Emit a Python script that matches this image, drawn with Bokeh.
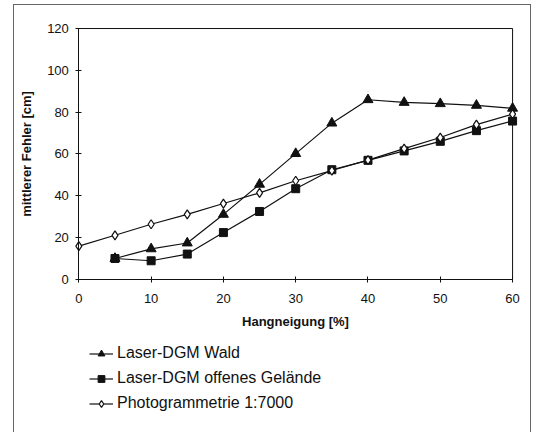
from bokeh.plotting import figure
from bokeh.models import Range1d, Legend, LegendItem, FixedTicker
from bokeh.embed import file_html
from bokeh.resources import INLINE

# ---- data ----
slope_laser = [5, 10, 15, 20, 25, 30, 35, 40, 45, 50, 55, 60]
laser_wald = [9.9, 14.5, 17.3, 31, 45.4, 60.1, 74.7, 85.9, 84.6, 84, 83.2, 81.8]
laser_offen = [9.9, 8.8, 12, 22.3, 32.4, 43.3, 52.4, 56.9, 61.4, 66, 71.1, 75.7]
slope_photo = [0, 5, 10, 15, 20, 25, 30, 35, 40, 45, 50, 55, 60]
photo = [15.8, 21, 26.3, 31, 36.2, 41.3, 47.1, 52, 57, 62.5, 67.8, 74, 79]
x_ticks = [0, 10, 20, 30, 40, 50, 60]
y_ticks = [0, 20, 40, 60, 80, 100, 120]
names = ["Laser-DGM Wald", "Laser-DGM offenes Gelände", "Photogrammetrie 1:7000"]
x_title = "Hangneigung [%]"
y_title = "mittlerer Fehler [cm]"

FONT = "Liberation Sans"
INK = "#111111"
FRAME = "1.5px solid #666666"

x0, x1 = x_ticks[0], x_ticks[-1]
y0, y1 = y_ticks[0], y_ticks[-1]
p = figure(width=518, height=428, output_backend="svg", toolbar_location=None,
           x_range=Range1d(-8.9, 62.48), y_range=Range1d(-73.9, 128.63),
           min_border_left=0, min_border_right=2, min_border_top=5, min_border_bottom=0,
           styles={"border-left": FRAME, "border-top": FRAME, "border-right": FRAME,
                   "margin-left": "13px", "margin-top": "4px"})
p.outline_line_color = None
p.grid.visible = False
p.background_fill_color = "white"
p.border_fill_color = "white"

for ax in (p.xaxis[0], p.yaxis[0]):
    ax.fixed_location = 0
    ax.axis_line_color = INK
    ax.axis_line_width = 1
    ax.major_tick_line_color = INK
    ax.major_tick_in = 3
    ax.major_tick_out = 3
    ax.minor_tick_line_color = None
    ax.major_label_text_font = FONT
    ax.major_label_text_font_size = "13px"
    ax.major_label_text_color = INK
    ax.axis_label_text_font = FONT
    ax.axis_label_text_font_size = "13px"
    ax.axis_label_text_font_style = "bold"
    ax.axis_label_text_color = INK

p.xaxis.ticker = FixedTicker(ticks=x_ticks)
p.yaxis.ticker = FixedTicker(ticks=y_ticks)
p.xaxis.bounds = (x0, x1)
p.yaxis.bounds = (y0, y1)
p.xaxis.axis_label = x_title
p.yaxis.axis_label = y_title
p.xaxis.major_label_standoff = 12
p.xaxis.axis_label_standoff = 7
p.yaxis.major_label_standoff = 7
p.yaxis.axis_label_standoff = 10

# top and right frame lines of the plot area
p.line([x0, x1, x1], [y1, y1, y0], line_color=INK, line_width=1)

l1 = p.line(slope_laser, laser_wald, line_color=INK, line_width=1.2)
m1 = p.scatter(slope_laser, laser_wald, marker="triangle", size=10,
               fill_color=INK, line_color=INK)
l2 = p.line(slope_laser, laser_offen, line_color=INK, line_width=1.2)
m2 = p.scatter(slope_laser, laser_offen, marker="square", size=8,
               fill_color=INK, line_color=INK)
l3 = p.line(slope_photo, photo, line_color=INK, line_width=1.2)
m3 = p.scatter(slope_photo, photo, marker="diamond", size=9,
               fill_color="white", line_color=INK, line_width=1.2)

legend = Legend(items=[LegendItem(label=names[0], renderers=[l1, m1]),
                       LegendItem(label=names[1], renderers=[l2, m2]),
                       LegendItem(label=names[2], renderers=[l3, m3])],
                location=(75, 20), orientation="vertical",
                border_line_color=None, background_fill_alpha=0,
                label_text_font=FONT, label_text_font_size="16px",
                label_text_color=INK, label_height=20, glyph_height=17,
                glyph_width=24, label_standoff=4, spacing=5,
                padding=0, margin=0)
p.add_layout(legend, "center")

open("out.html", "w").write(file_html(p, INLINE))
